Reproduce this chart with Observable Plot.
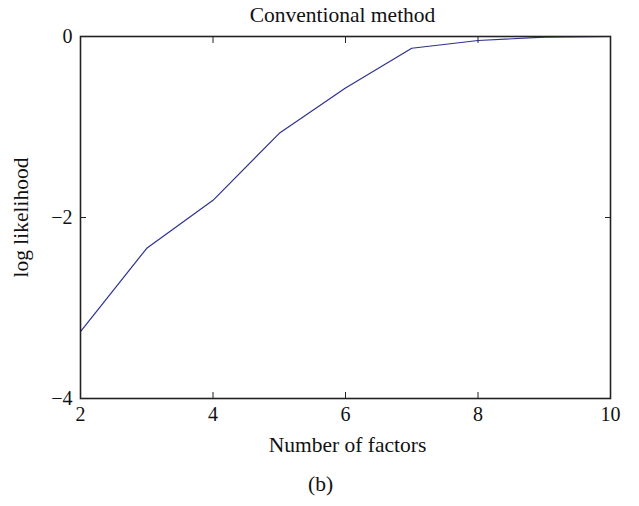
<!DOCTYPE html>
<html><head><meta charset="utf-8">
<script src="https://cdn.jsdelivr.net/npm/d3@7"></script>
<script src="https://cdn.jsdelivr.net/npm/@observablehq/plot@0.6"></script>
<style>body{margin:0;background:#fff;}</style>
</head><body><div id="chart"></div>
<script>
const factors = [2, 3, 4, 5, 6, 7, 8, 9, 10];
const logLikelihood = [-3.26, -2.34, -1.81, -1.07, -0.57, -0.13, -0.044, -0.008, 0];
const xTicks = [2, 4, 6, 8, 10];
const yTicks = [0, -2, -4];
const title = "Conventional method";
const xLabel = "Number of factors";
const yLabel = "log likelihood";
const caption = "(b)";

const data = factors.map((f, i) => ({factors: f, ll: logLikelihood[i]}));
const font = "'Liberation Serif', 'Times New Roman', serif";
const axisColor = "#222";
const fmt = d => d < 0 ? "\u2212" + Math.abs(d) : String(d);

const chart = Plot.plot({
  width: 639, height: 506,
  marginLeft: 80, marginRight: 29, marginTop: 36, marginBottom: 108,
  style: {fontFamily: font, fontSize: "20px", color: "#111", background: "#fff"},
  x: {domain: [2, 10]},
  y: {domain: [-4, 0]},
  marks: [
    Plot.line(data, {x: "factors", y: "ll", stroke: "#2e3192", strokeWidth: 1.2}),
    Plot.frame({stroke: axisColor, strokeWidth: 1.6}),
    Plot.axisX(xTicks, {anchor: "bottom", tickSize: -6, tickPadding: 14, label: null, tickFormat: fmt, stroke: axisColor}),
    Plot.axisX(xTicks, {anchor: "top", tickSize: -6, label: null, tickFormat: () => "", stroke: axisColor}),
    Plot.axisY(yTicks, {anchor: "left", tickSize: -6, tickPadding: 14, label: null, tickFormat: fmt, stroke: axisColor}),
    Plot.axisY(yTicks, {anchor: "right", tickSize: -6, label: null, tickFormat: () => "", stroke: axisColor}),
    Plot.text([title], {frameAnchor: "top", lineAnchor: "middle", dy: -21, dx: -3, fontSize: 21.5, fill: "#111"}),
    Plot.text([xLabel], {frameAnchor: "bottom", lineAnchor: "middle", dy: 47, dx: 2, fontSize: 21.5, fill: "#111"}),
    Plot.text([caption], {frameAnchor: "bottom", lineAnchor: "middle", dy: 86, dx: -25, fontSize: 21.5, fill: "#111"}),
    Plot.text([yLabel], {frameAnchor: "left", textAnchor: "middle", lineAnchor: "middle", dx: -59, rotate: -90, fontSize: 21.5, fill: "#111"})
  ]
});
document.getElementById("chart").appendChild(chart);
</script>
</body></html>
